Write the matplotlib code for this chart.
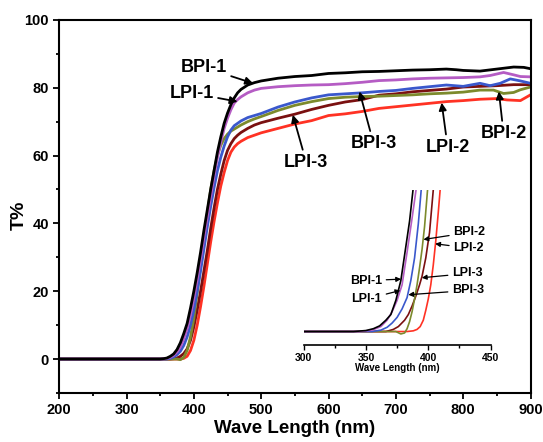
"""Transmittance spectra of BPI / LPI films with a zoomed inset of the absorption edge."""

import matplotlib
matplotlib.use("Agg")
import matplotlib.pyplot as plt
from matplotlib.ticker import MultipleLocator

plt.rcParams["font.family"] = ["Liberation Sans", "DejaVu Sans"]
plt.rcParams["font.weight"] = "bold"

# ---- main spectra (wavelength nm, T%) ----
wl_bpi1 = [200, 350, 355, 360, 365, 370, 375, 380, 385, 390, 395, 400, 405, 410, 415, 420, 425, 430,
           435, 440, 445, 450, 455, 460, 465, 470, 480, 490, 500, 525, 550, 575, 600, 625, 650, 675,
           700, 725, 750, 775, 790, 800, 825, 850, 875, 890, 900]
t_bpi1 = [0, 0, 0.1, 0.3, 0.8, 1.5, 2.8, 4.8, 7.5, 10.5, 15, 20, 25.5, 31.5, 38, 44, 50, 55.5,
          61, 65.5, 69.5, 72.5, 75, 77, 78.5, 79.5, 80.8, 81.5, 82, 82.8, 83.3, 83.6, 84.2, 84.4, 84.7, 84.8,
          85, 85.2, 85.3, 85.5, 85.3, 85.1, 84.9, 85.5, 86.1, 86, 85.6]

wl_lpi1 = [200, 350, 355, 360, 365, 370, 375, 380, 385, 390, 395, 400, 405, 410, 415, 420, 425, 430,
           435, 440, 445, 450, 455, 460, 465, 470, 480, 490, 500, 525, 550, 575, 600, 625, 650, 675,
           700, 725, 750, 775, 800, 825, 840, 860, 875, 885, 900]
t_lpi1 = [0, 0, 0.05, 0.2, 0.5, 1.1, 2.1, 3.6, 6, 9, 13, 18, 23.5, 29.5, 36, 42, 48, 54,
          59.5, 64, 68, 71, 73.5, 75.5, 76.5, 77.3, 78.5, 79.3, 79.8, 80.3, 80.6, 80.8, 80.9, 81.2, 81.6, 82.1,
          82.3, 82.6, 82.8, 82.9, 83, 83.2, 83.6, 84.5, 83.8, 83.3, 83.2]

wl_bpi3 = [200, 360, 365, 370, 375, 380, 385, 390, 395, 400, 405, 410, 415, 420, 425, 430, 435, 440,
           445, 450, 455, 460, 470, 480, 490, 500, 525, 550, 575, 600, 625, 650, 675, 700, 725, 750,
           775, 800, 825, 840, 855, 870, 885, 900]
t_bpi3 = [0, 0, 0.2, 0.6, 1.3, 2.3, 4, 6.5, 10, 14.5, 20, 26, 32.5, 39, 45, 50.5, 55.5, 59.5,
          62.8, 65.5, 67.5, 68.8, 70.2, 71.2, 71.8, 72.4, 74.3, 75.8, 77, 77.9, 78.2, 78.5, 78.9, 79.2, 79.8, 80.3,
          80.8, 80.4, 81.3, 80.6, 81.3, 82.6, 82, 81.3]

wl_bpi2 = [200, 375, 380, 385, 390, 395, 400, 405, 410, 415, 420, 425, 430, 435, 440, 445, 450, 455,
           460, 465, 470, 480, 490, 500, 525, 550, 575, 600, 625, 650, 675, 700, 725, 750, 775, 800,
           825, 845, 860, 875, 885, 900]
t_bpi2 = [0, 0, -0.2, 0.5, 2.5, 6.5, 12, 19.5, 27.5, 35.5, 43, 50, 55.5, 60, 63, 65, 66.3, 67.2,
          67.8, 68.4, 69, 70, 70.8, 71.5, 73.3, 74.8, 75.9, 76.8, 77.2, 77.4, 77.5, 77.7, 77.9, 78.2, 78.4, 78.7,
          79.3, 79.3, 78.3, 78.6, 79.4, 80.2]

wl_lpi3 = [200, 365, 370, 375, 380, 385, 390, 395, 400, 405, 410, 415, 420, 425, 430, 435, 440, 445,
           450, 455, 460, 465, 470, 480, 490, 500, 525, 550, 575, 600, 625, 650, 675, 700, 725, 750,
           775, 800, 825, 850, 875, 900]
t_lpi3 = [0, 0, 0.1, 0.3, 0.8, 1.6, 3, 5.5, 9.5, 14.5, 20, 26, 32, 38.5, 44.5, 50, 54.5, 58.5,
          61.5, 63.5, 65, 66, 66.8, 68, 69, 69.7, 71, 72.2, 73.6, 74.8, 75.8, 76.5, 77.8, 78.2, 78.8, 79.2,
          79.6, 80.2, 80.4, 80.6, 80.9, 80.9]

wl_lpi2 = [200, 380, 385, 390, 395, 400, 405, 410, 415, 420, 425, 430, 435, 440, 445, 450, 455, 460,
           465, 470, 480, 490, 500, 525, 550, 575, 600, 625, 650, 675, 700, 725, 750, 775, 800, 825,
           850, 865, 885, 900]
t_lpi2 = [0, 0, 0.2, 0.8, 2.5, 5.5, 10, 15.5, 21.5, 28, 34.5, 40.5, 46, 51, 55, 58.5, 61, 62.5,
          63.5, 64.2, 65.3, 66, 66.7, 68, 69.3, 70.3, 71.8, 72.3, 73, 73.9, 74.4, 74.9, 75.4, 75.9, 76.2, 76.6,
          76.8, 76.4, 76.2, 77.9]

# ---- inset (absorption edge, 300-450 nm) ----
iwl_bpi1 = [300, 340, 350, 356, 361, 366, 370, 374, 378, 382, 385, 388, 391]
it_bpi1 = [0, 0, 0.07, 0.2, 0.4, 0.8, 1.2, 2.2, 3.6, 6.0, 7.8, 10.2, 12]
iwl_lpi1 = [300, 345, 355, 362, 367, 371, 375, 379, 383, 387, 390.5, 393]
it_lpi1 = [0, 0, 0.1, 0.35, 0.8, 1.4, 2.2, 3.3, 5.6, 8.0, 10.2, 12]
iwl_bpi3 = [300, 355, 362, 367, 371, 375, 379, 383, 386, 389, 392, 394.5, 397]
it_bpi3 = [0, 0, 0.1, 0.3, 0.6, 1.0, 1.6, 2.4, 3.6, 5.2, 7.6, 10.2, 12]
iwl_bpi2 = [300, 374, 378, 381, 383, 385, 387, 389, 391, 393, 395, 397, 399.5, 401]
it_bpi2 = [0, 0, -0.17, -0.1, 0.2, 0.7, 1.4, 2.3, 3.3, 4.5, 5.8, 7.4, 10.1, 12]
iwl_lpi3 = [300, 366, 372, 376, 381, 384, 387, 390, 393, 395, 398, 401, 404, 406]
it_lpi3 = [0, 0, 0.15, 0.35, 0.8, 1.2, 1.8, 2.5, 3.3, 3.9, 5.2, 7.0, 10.0, 12]
iwl_lpi2 = [300, 383, 388, 391, 393.5, 396, 398, 400, 402, 404, 406, 408, 409.5, 411]
it_lpi2 = [0, 0, 0.05, 0.15, 0.35, 0.8, 1.5, 2.3, 3.3, 4.7, 6.4, 8.4, 10.0, 12]

curves = [
    ("BPI-1", "#000000", wl_bpi1, t_bpi1, iwl_bpi1, it_bpi1),
    ("LPI-1", "#b55cc4", wl_lpi1, t_lpi1, iwl_lpi1, it_lpi1),
    ("BPI-3", "#3a58cc", wl_bpi3, t_bpi3, iwl_bpi3, it_bpi3),
    ("BPI-2", "#7c8a2c", wl_bpi2, t_bpi2, iwl_bpi2, it_bpi2),
    ("LPI-3", "#7a1010", wl_lpi3, t_lpi3, iwl_lpi3, it_lpi3),
    ("LPI-2", "#ff3224", wl_lpi2, t_lpi2, iwl_lpi2, it_lpi2),
]
draw_order = ["LPI-2", "LPI-3", "BPI-2", "BPI-3", "LPI-1", "BPI-1"]

# label text position, arrow tip (data coords)
main_labels = {
    "BPI-1": ((415, 86), (488, 81.3)),
    "LPI-1": ((397, 78.4), (465, 75.9)),
    "LPI-3": ((567, 58), (547, 72.0)),
    "BPI-3": ((667, 63.5), (646, 78.9)),
    "LPI-2": ((777, 62.5), (768, 75.6)),
    "BPI-2": ((860, 66.5), (853, 78.9)),
}
inset_labels = {
    "BPI-2": ((420, 7.0), (396.1, 6.5)),
    "LPI-2": ((420, 5.9), (405.5, 6.2)),
    "LPI-3": ((419, 4.1), (394.8, 3.8)),
    "BPI-3": ((419, 2.9), (384.0, 2.6)),
    "BPI-1": ((363, 3.6), (378.2, 3.7)),
    "LPI-1": ((363, 2.3), (377.6, 2.9)),
}


def main():
    fig = plt.figure(figsize=(5.43, 4.42), dpi=100)
    ax = fig.add_axes([0.109, 0.111, 0.868, 0.844])

    for name in draw_order:
        _, color, wl, t, _, _ = next(c for c in curves if c[0] == name)
        ax.plot(wl, t, color=color, lw=2.0, solid_joinstyle="round")

    ax.set_xlim(200, 900)
    ax.set_ylim(-10, 100)
    ax.xaxis.set_major_locator(MultipleLocator(100))
    ax.xaxis.set_minor_locator(MultipleLocator(50))
    ax.yaxis.set_major_locator(MultipleLocator(20))
    ax.yaxis.set_minor_locator(MultipleLocator(10))
    ax.tick_params(which="both", direction="out", top=False, right=False, width=1.3,
                   labelsize=10.5)
    ax.tick_params(which="major", length=4)
    ax.tick_params(which="minor", length=2.5)
    for s in ax.spines.values():
        s.set_linewidth(1.5)
    ax.set_xlabel("Wave Length (nm)", fontsize=13.5, fontweight="bold", labelpad=2)
    ax.set_ylabel("T%", fontsize=14, fontweight="bold")
    ax.yaxis.set_label_coords(-0.066, 0.475)

    for name, (txt, tip) in main_labels.items():
        ax.annotate(name, xy=tip, xytext=txt, ha="center", va="center",
                    fontsize=13, fontweight="bold",
                    arrowprops=dict(arrowstyle="-|>", color="black", lw=1.3,
                                    mutation_scale=11, shrinkA=1, shrinkB=0))

    # inset
    ins = fig.add_axes([0.559, 0.2195, 0.3446, 0.3507])
    ins.patch.set_alpha(0)
    for name in draw_order:
        _, color, _, _, iwl, it = next(c for c in curves if c[0] == name)
        ins.plot(iwl, it, color=color, lw=1.2)
    ins.set_xlim(300, 450)
    ins.set_ylim(-0.95, 10)
    for side in ("top", "left", "right"):
        ins.spines[side].set_visible(False)
    ins.spines["bottom"].set_linewidth(1.2)
    ins.set_yticks([])
    ins.xaxis.set_major_locator(MultipleLocator(50))
    ins.xaxis.set_minor_locator(MultipleLocator(25))
    ins.tick_params(which="both", direction="out", width=1.0, labelsize=7.5, pad=2)
    ins.tick_params(which="major", length=3.5)
    ins.tick_params(which="minor", length=2.5)
    ins.set_xlabel("Wave Length (nm)", fontsize=7, fontweight="bold", labelpad=0)

    for name, (txt, tip) in inset_labels.items():
        ha = "right" if txt[0] < 370 else "left"
        ins.annotate(name, xy=tip, xytext=txt, ha=ha, va="center",
                     fontsize=9, fontweight="bold",
                     arrowprops=dict(arrowstyle="-|>", color="black", lw=0.9,
                                     mutation_scale=7, shrinkA=1, shrinkB=0))

    fig.savefig("out.png", dpi=100)


if __name__ == "__main__":
    main()
